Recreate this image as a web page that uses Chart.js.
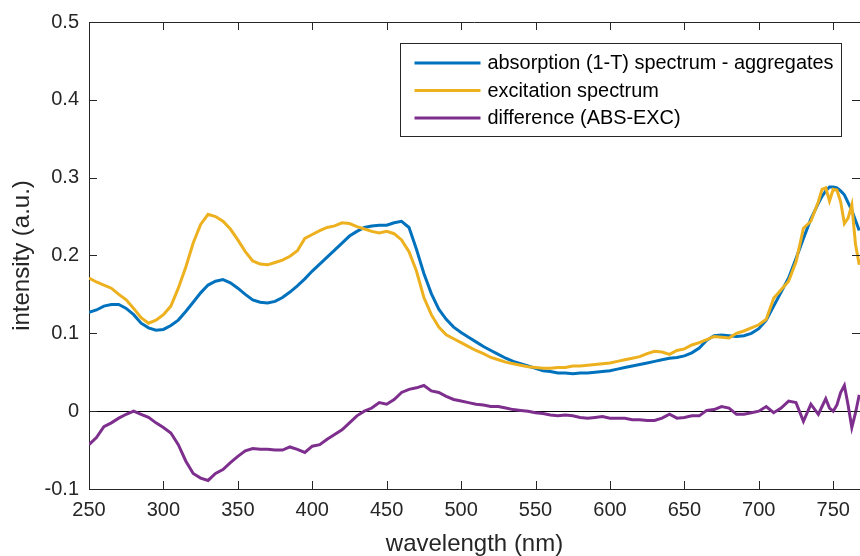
<!DOCTYPE html>
<html>
<head>
<meta charset="utf-8">
<script src="https://cdn.jsdelivr.net/npm/chart.js@4"></script>
<style>
  html, body { margin: 0; padding: 0; background: #fff; overflow: hidden; }
  #wrap { width: 860px; height: 556px; }
</style>
</head>
<body>
<div id="wrap"><canvas id="spectraChart"></canvas></div>
<script>
// wavelength grid (nm)
const wavelengths = [
  250, 255, 260, 265, 270, 275, 280, 285, 290, 295,
  300, 305, 310, 315, 320, 325, 330, 335, 340, 345,
  350, 355, 360, 365, 370, 375, 380, 385, 390, 395,
  400, 405, 410, 415, 420, 425, 430, 435, 440, 445,
  450, 455, 460, 465, 470, 475, 480, 485, 490, 495,
  500, 505, 510, 515, 520, 525, 530, 535, 540, 545,
  550, 555, 560, 565, 570, 575, 580, 585, 590, 595,
  600, 605, 610, 615, 620, 625, 630, 635, 640, 645,
  650, 655, 660, 665, 670, 675, 680, 685, 690, 695,
  700, 705, 710, 715, 720, 725, 730, 735, 740,
  742.5, 745, 747.5, 750, 752.5, 755, 757.5, 760, 762.5, 765, 767.5
];

const absorption = [
  0.127, 0.130, 0.135, 0.137, 0.137, 0.132, 0.124, 0.113, 0.107, 0.104,
  0.105, 0.110, 0.117, 0.128, 0.140, 0.152, 0.162, 0.167, 0.169, 0.165,
  0.158, 0.150, 0.143, 0.140, 0.139, 0.141, 0.146, 0.153, 0.161, 0.170,
  0.180, 0.189, 0.198, 0.207, 0.216, 0.225, 0.231, 0.236, 0.238, 0.239,
  0.239, 0.242, 0.244, 0.236, 0.208, 0.177, 0.151, 0.131, 0.118, 0.108,
  0.101, 0.095, 0.089, 0.083, 0.078, 0.073, 0.068, 0.064, 0.061, 0.058,
  0.055, 0.052, 0.051, 0.049, 0.049, 0.048, 0.049, 0.049, 0.050, 0.051,
  0.052, 0.054, 0.056, 0.058, 0.060, 0.062, 0.064, 0.066, 0.068, 0.069,
  0.071, 0.075, 0.081, 0.091, 0.097, 0.098, 0.097, 0.096, 0.097, 0.100,
  0.106, 0.117, 0.135, 0.153, 0.171, 0.196, 0.222, 0.247, 0.267,
  0.276, 0.283, 0.288, 0.288, 0.287, 0.283, 0.278, 0.268, 0.258, 0.245, 0.232
];

const excitation = [
  0.171, 0.166, 0.162, 0.158, 0.150, 0.143, 0.132, 0.120, 0.113, 0.117,
  0.124, 0.135, 0.158, 0.185, 0.216, 0.240, 0.253, 0.250, 0.244, 0.234,
  0.220, 0.205, 0.193, 0.189, 0.188, 0.191, 0.194, 0.199, 0.206, 0.222,
  0.227, 0.232, 0.236, 0.238, 0.242, 0.241, 0.237, 0.234, 0.231, 0.229,
  0.231, 0.228, 0.220, 0.205, 0.180, 0.146, 0.124, 0.108, 0.098, 0.093,
  0.088, 0.083, 0.078, 0.074, 0.069, 0.066, 0.063, 0.061, 0.059, 0.057,
  0.056, 0.055, 0.055, 0.056, 0.056, 0.058, 0.058, 0.059, 0.060, 0.061,
  0.062, 0.064, 0.066, 0.068, 0.070, 0.074, 0.077, 0.076, 0.073, 0.078,
  0.080, 0.085, 0.088, 0.092, 0.096, 0.095, 0.094, 0.100, 0.103, 0.107,
  0.111, 0.118, 0.145, 0.156, 0.167, 0.192, 0.235, 0.244, 0.269,
  0.285, 0.287, 0.270, 0.285, 0.284, 0.269, 0.241, 0.248, 0.265, 0.214, 0.188
];

const difference = [
  -0.043, -0.034, -0.020, -0.015, -0.009, -0.004, 0.000, -0.004, -0.008, -0.015,
  -0.021, -0.028, -0.043, -0.064, -0.080, -0.086, -0.089, -0.080, -0.075, -0.066,
  -0.058, -0.051, -0.048, -0.049, -0.049, -0.050, -0.050, -0.046, -0.049, -0.053,
  -0.045, -0.043, -0.036, -0.030, -0.024, -0.015, -0.006, 0.000, 0.004, 0.011,
  0.009, 0.015, 0.024, 0.028, 0.030, 0.033, 0.026, 0.024, 0.019, 0.015,
  0.013, 0.011, 0.009, 0.008, 0.006, 0.006, 0.004, 0.002, 0.001, 0.000,
  -0.002, -0.003, -0.005, -0.006, -0.005, -0.006, -0.008, -0.009, -0.008, -0.007,
  -0.009, -0.009, -0.009, -0.011, -0.011, -0.012, -0.012, -0.009, -0.004, -0.009,
  -0.008, -0.006, -0.006, 0.001, 0.002, 0.006, 0.004, -0.004, -0.004, -0.002,
  0.000, 0.006, -0.002, 0.004, 0.013, 0.011, -0.013, 0.009, -0.004,
  0.006, 0.016, 0.004, 0.000, 0.008, 0.024, 0.033, 0.008, -0.021, -0.002, 0.021
];

const xTickValues = [250, 300, 350, 400, 450, 500, 550, 600, 650, 700, 750];
const yTickValues = [-0.1, 0, 0.1, 0.2, 0.3, 0.4, 0.5];

const seriesLabels = ['absorption (1-T) spectrum - aggregates', 'excitation spectrum', 'difference (ABS-EXC)'];
const seriesColors = ['#0072BD', '#EDB120', '#7E2F8E'];

const FONT = '"Liberation Sans", Arial, Helvetica, sans-serif';
const AXIS_COLOR = '#262626';

function toPoints(values) {
  return values.map((v, i) => ({ x: wavelengths[i], y: v }));
}

// MATLAB-like box: top edge plus inward ticks on all sides
const axesBox = {
  id: 'axesBox',
  afterDatasetsDraw(chart) {
    const { ctx, chartArea: a, scales: { x, y } } = chart;
    const len = 8;
    ctx.save();
    ctx.strokeStyle = AXIS_COLOR;
    ctx.lineWidth = 1;
    ctx.beginPath();
    ctx.moveTo(a.left, a.top + 0.5);
    ctx.lineTo(a.right, a.top + 0.5);
    xTickValues.forEach(v => {
      const px = Math.round(x.getPixelForValue(v)) + 0.5;
      ctx.moveTo(px, a.bottom);
      ctx.lineTo(px, a.bottom - len);
      ctx.moveTo(px, a.top);
      ctx.lineTo(px, a.top + len);
    });
    yTickValues.forEach(v => {
      const py = Math.round(y.getPixelForValue(v)) + 0.5;
      ctx.moveTo(a.left, py);
      ctx.lineTo(a.left + len, py);
      ctx.moveTo(a.right, py);
      ctx.lineTo(a.right - len, py);
    });
    ctx.stroke();
    ctx.restore();
  }
};

// legend drawn inside the axes with a frame, like the original figure
const boxedLegend = {
  id: 'boxedLegend',
  afterDraw(chart) {
    const { ctx, chartArea: a } = chart;
    const w = 441, h = 93;
    const left = Math.round(a.right - 19 - w) + 0.5;
    const top = Math.round(a.top + 21) + 0.5;
    ctx.save();
    ctx.fillStyle = '#fff';
    ctx.fillRect(left, top, w, h);
    ctx.strokeStyle = AXIS_COLOR;
    ctx.lineWidth = 1;
    ctx.strokeRect(left, top, w, h);
    ctx.font = '19.9px ' + FONT;
    ctx.textBaseline = 'middle';
    chart.data.datasets.forEach((ds, i) => {
      const yy = top + 19.5 + i * 27.5;
      ctx.strokeStyle = ds.borderColor;
      ctx.lineWidth = 3;
      ctx.beginPath();
      ctx.moveTo(left + 14, yy);
      ctx.lineTo(left + 80, yy);
      ctx.stroke();
      ctx.fillStyle = '#000';
      ctx.fillText(ds.label, left + 87, yy + 1);
    });
    ctx.restore();
  }
};

document.addEventListener('DOMContentLoaded', function () {
  const ctx = document.getElementById('spectraChart').getContext('2d');
  Chart.defaults.font.family = FONT;
  Chart.defaults.color = AXIS_COLOR;

  const datasets = [absorption, excitation, difference].map((vals, i) => ({
    label: seriesLabels[i],
    data: toPoints(vals),
    borderColor: seriesColors[i],
    backgroundColor: seriesColors[i],
    borderWidth: 3,
    pointRadius: 0,
    tension: 0,
    fill: false,
    order: 3 - i // later series on top, as in the original
  }));

  new Chart(ctx, {
    type: 'line',
    data: { datasets: datasets },
    options: {
      responsive: true,
      maintainAspectRatio: false,
      animation: false,
      layout: { padding: { top: 20, right: 0, bottom: 0, left: 0 } },
      plugins: {
        legend: { display: false },
        tooltip: { enabled: false }
      },
      scales: {
        x: {
          type: 'linear',
          min: 250,
          max: 768,
          afterBuildTicks: s => { s.ticks = xTickValues.map(v => ({ value: v })); },
          afterFit: s => { s.height = 67; },
          grid: { display: false, drawTicks: false },
          border: { display: true, color: AXIS_COLOR, width: 1 },
          ticks: {
            padding: 9,
            maxRotation: 0,
            color: AXIS_COLOR,
            font: { size: 20 },
            callback: v => String(v)
          },
          title: {
            display: true,
            text: 'wavelength (nm)',
            color: AXIS_COLOR,
            font: { size: 24 },
            padding: { top: 0, bottom: -3 }
          }
        },
        y: {
          min: -0.1,
          max: 0.5,
          afterBuildTicks: s => { s.ticks = yTickValues.map(v => ({ value: v })); },
          afterFit: s => { s.width = 89; },
          grid: {
            drawTicks: false,
            lineWidth: 1,
            color: c => (c.tick && c.tick.value === 0) ? '#000' : 'rgba(0,0,0,0)'
          },
          border: { display: true, color: AXIS_COLOR, width: 1 },
          ticks: {
            padding: 10,
            color: AXIS_COLOR,
            font: { size: 20 },
            callback: v => String(v)
          },
          title: {
            display: true,
            text: 'intensity (a.u.)',
            color: AXIS_COLOR,
            font: { size: 24 },
            padding: { top: 8, bottom: 0 }
          }
        }
      }
    },
    plugins: [axesBox, boxedLegend]
  });
});
</script>
</body>
</html>
